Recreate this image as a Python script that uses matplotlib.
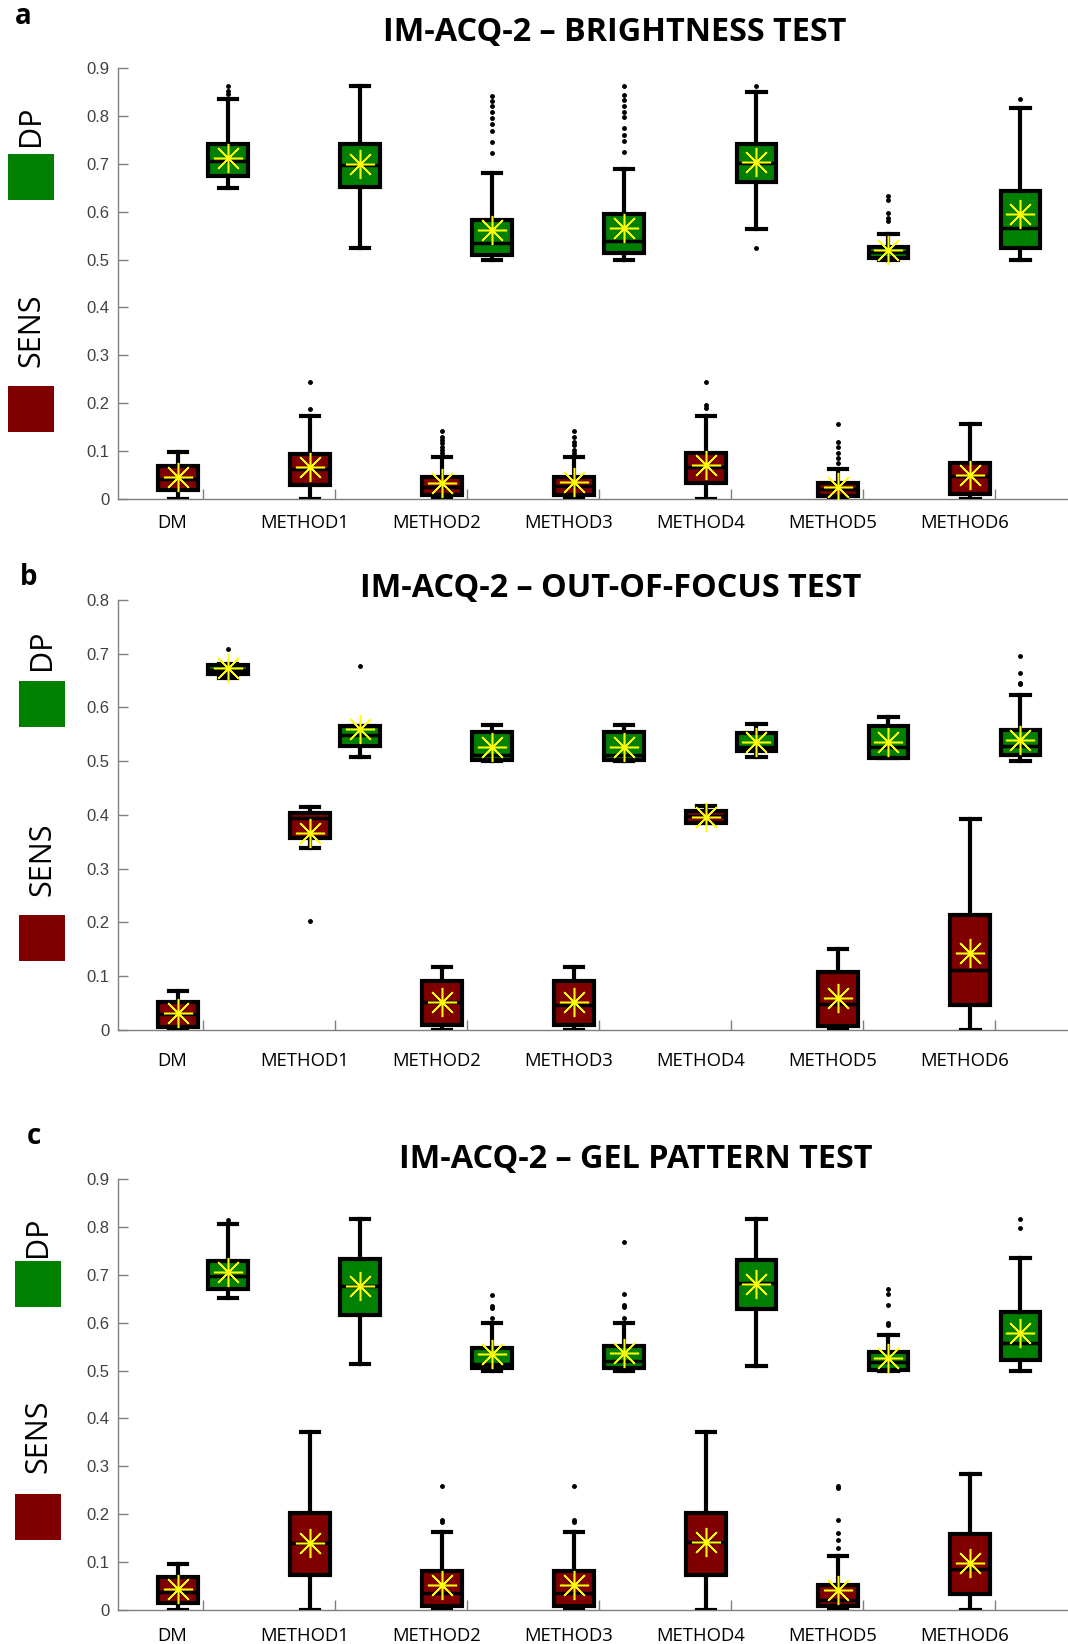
import numpy as np
import matplotlib
matplotlib.use("Agg")
import matplotlib.pyplot as plt
from matplotlib.patches import Rectangle

methods = ["DM", "METHOD1", "METHOD2", "METHOD3", "METHOD4", "METHOD5", "METHOD6"]

# ---- panel a : brightness test ----
a_sens_q1 = [0.019, 0.029, 0.008, 0.008, 0.033, 0.007, 0.010]
a_sens_med = [0.042, 0.062, 0.026, 0.027, 0.066, 0.021, 0.047]
a_sens_q3 = [0.069, 0.094, 0.045, 0.045, 0.097, 0.033, 0.076]
a_sens_lo = [0.0, 0.0, 0.0, 0.0, 0.0, 0.0, 0.0]
a_sens_hi = [0.099, 0.174, 0.088, 0.088, 0.174, 0.063, 0.157]
a_sens_mean = [0.045, 0.066, 0.033, 0.035, 0.070, 0.024, 0.049]
a_sens_out = [[], [0.187, 0.245], [0.095, 0.103, 0.109, 0.116, 0.123, 0.130, 0.141],
              [0.095, 0.103, 0.113, 0.120, 0.130, 0.142], [0.189, 0.196, 0.245],
              [0.075, 0.085, 0.095, 0.109, 0.120, 0.157], []]

a_dp_q1 = [0.675, 0.651, 0.510, 0.513, 0.661, 0.503, 0.525]
a_dp_med = [0.706, 0.697, 0.534, 0.538, 0.701, 0.515, 0.565]
a_dp_q3 = [0.742, 0.742, 0.583, 0.595, 0.742, 0.527, 0.644]
a_dp_lo = [0.649, 0.524, 0.500, 0.500, 0.564, 0.500, 0.500]
a_dp_hi = [0.836, 0.863, 0.680, 0.689, 0.849, 0.553, 0.816]
a_dp_mean = [0.713, 0.700, 0.561, 0.566, 0.704, 0.520, 0.595]
a_dp_out = [[0.845, 0.852, 0.862], [],
            [0.722, 0.745, 0.768, 0.784, 0.796, 0.809, 0.820, 0.831, 0.841],
            [0.724, 0.747, 0.761, 0.775, 0.798, 0.809, 0.820, 0.834, 0.844, 0.863],
            [0.524, 0.863], [0.580, 0.587, 0.597, 0.625, 0.633], [0.836]]

# ---- panel b : out-of-focus test ----
b_sens_q1 = [0.005, 0.357, 0.009, 0.010, 0.385, 0.008, 0.047]
b_sens_med = [0.030, 0.395, 0.052, 0.047, 0.398, 0.048, 0.112]
b_sens_q3 = [0.052, 0.403, 0.091, 0.091, 0.407, 0.107, 0.214]
b_sens_lo = [0.0, 0.339, 0.0, 0.0, 0.385, 0.0, 0.0]
b_sens_hi = [0.072, 0.415, 0.118, 0.118, 0.417, 0.150, 0.393]
b_sens_mean = [0.031, 0.366, 0.052, 0.052, 0.397, 0.060, 0.143]
b_sens_out = [[], [0.202], [], [], [], [], []]

b_dp_q1 = [0.663, 0.528, 0.503, 0.503, 0.519, 0.505, 0.511]
b_dp_med = [0.669, 0.549, 0.512, 0.512, 0.527, 0.527, 0.529]
b_dp_q3 = [0.679, 0.566, 0.555, 0.555, 0.553, 0.566, 0.558]
b_dp_lo = [0.654, 0.508, 0.500, 0.500, 0.508, 0.505, 0.500]
b_dp_hi = [0.680, 0.566, 0.567, 0.567, 0.569, 0.583, 0.624]
b_dp_mean = [0.674, 0.559, 0.527, 0.527, 0.535, 0.536, 0.539]
b_dp_out = [[0.709], [0.677], [], [], [], [], [0.643, 0.646, 0.664, 0.696]]

# ---- panel c : gel pattern test ----
c_sens_q1 = [0.014, 0.074, 0.009, 0.009, 0.074, 0.009, 0.034]
c_sens_med = [0.037, 0.140, 0.036, 0.036, 0.141, 0.021, 0.086]
c_sens_q3 = [0.068, 0.203, 0.081, 0.081, 0.202, 0.053, 0.158]
c_sens_lo = [0.0, 0.0, 0.0, 0.0, 0.0, 0.0, 0.0]
c_sens_hi = [0.096, 0.371, 0.162, 0.162, 0.371, 0.113, 0.284]
c_sens_mean = [0.043, 0.140, 0.053, 0.053, 0.143, 0.041, 0.098]
c_sens_out = [[], [], [0.184, 0.187, 0.259], [0.184, 0.187, 0.259], [],
              [0.130, 0.146, 0.160, 0.187, 0.255, 0.259], []]

c_dp_q1 = [0.670, 0.617, 0.506, 0.506, 0.629, 0.502, 0.522]
c_dp_med = [0.697, 0.677, 0.514, 0.520, 0.683, 0.517, 0.558]
c_dp_q3 = [0.729, 0.734, 0.547, 0.551, 0.731, 0.538, 0.622]
c_dp_lo = [0.651, 0.513, 0.500, 0.500, 0.510, 0.500, 0.500]
c_dp_hi = [0.807, 0.816, 0.600, 0.600, 0.816, 0.574, 0.736]
c_dp_mean = [0.706, 0.676, 0.535, 0.536, 0.680, 0.526, 0.579]
c_dp_out = [[0.814], [], [0.609, 0.630, 0.634, 0.658],
            [0.609, 0.633, 0.636, 0.659, 0.768], [],
            [0.595, 0.600, 0.636, 0.659, 0.671], [0.797, 0.816]]

GREEN = "#008000"
RED = "#800000"
YELLOW = "#ffff00"
W, H = 1068.0, 1644.0


def make_stats(q1, med, q3, lo, hi, mean, out):
    stats = []
    for i in range(len(q1)):
        stats.append(dict(q1=q1[i], med=med[i], q3=q3[i], whislo=lo[i],
                          whishi=hi[i], mean=mean[i], fliers=out[i]))
    return stats


def draw_boxes(ax, stats, pos, color):
    ax.bxp(stats, positions=pos, widths=0.3, capwidths=0.14,
           patch_artist=True, showmeans=True,
           boxprops=dict(facecolor=color, edgecolor="black", linewidth=3),
           whiskerprops=dict(color="black", linewidth=3),
           capprops=dict(color="black", linewidth=3),
           medianprops=dict(color="black", linewidth=2.5),
           flierprops=dict(marker="o", markersize=2.5, markerfacecolor="black",
                           markeredgecolor="black"),
           meanprops=dict(marker=(8, 2, 0), markersize=21, markeredgecolor=YELLOW,
                          markeredgewidth=1.1))
    ax.plot(pos, [s["mean"] for s in stats], "o", ms=3, color=YELLOW, zorder=5)


def draw_panel(ax, sens, dp, ymax, title, title_xy, label_pad):
    groups = np.arange(1, len(methods) + 1)
    draw_boxes(ax, sens, groups - 0.19, RED)
    draw_boxes(ax, dp, groups + 0.19, GREEN)
    ax.set_xlim(0.357, 7.55)
    ax.set_ylim(0, ymax)
    yt = np.round(np.arange(0, ymax + 0.001, 0.1), 1)
    ax.set_yticks(yt)
    ax.set_yticklabels([f"{t:g}" for t in yt], fontfamily="Liberation Sans",
                       fontsize=12, color="#404040")
    ax.tick_params(axis="y", direction="in", length=7, width=1, color="#7f7f7f", pad=6)
    ax.set_xticks(groups - 0.23)
    ax.set_xticklabels(methods, fontfamily="Open Sans", fontsize=13.3)
    ax.tick_params(axis="x", which="major", length=0, pad=label_pad)
    ax.set_xticks(groups, minor=True)
    ax.tick_params(axis="x", which="minor", direction="in", length=7, width=1,
                   color="#7f7f7f")
    for s in ["top", "right"]:
        ax.spines[s].set_visible(False)
    for s in ["left", "bottom"]:
        ax.spines[s].set_color("#7f7f7f")
        ax.spines[s].set_linewidth(1)
        ax.spines[s].set_zorder(0)
    fig.text(title_xy[0] / W, 1 - title_xy[1] / H, title, fontfamily="Open Sans",
             fontweight="bold", fontsize=23.3, ha="center", va="center")


fig = plt.figure(figsize=(10.68, 16.44), dpi=100)

ax_a = fig.add_axes([0.1105, 0.6965, 0.8895, 0.2621])
ax_b = fig.add_axes([0.1105, 0.3735, 0.8895, 0.2616])
ax_c = fig.add_axes([0.1105, 0.0207, 0.8895, 0.2621])

draw_panel(ax_a, make_stats(a_sens_q1, a_sens_med, a_sens_q3, a_sens_lo, a_sens_hi, a_sens_mean, a_sens_out),
           make_stats(a_dp_q1, a_dp_med, a_dp_q3, a_dp_lo, a_dp_hi, a_dp_mean, a_dp_out),
           0.9, "IM-ACQ-2 \u2013 BRIGHTNESS TEST", (615, 32), 11)
draw_panel(ax_b, make_stats(b_sens_q1, b_sens_med, b_sens_q3, b_sens_lo, b_sens_hi, b_sens_mean, b_sens_out),
           make_stats(b_dp_q1, b_dp_med, b_dp_q3, b_dp_lo, b_dp_hi, b_dp_mean, b_dp_out),
           0.8, "IM-ACQ-2 \u2013 OUT-OF-FOCUS TEST", (611, 588), 16)
draw_panel(ax_c, make_stats(c_sens_q1, c_sens_med, c_sens_q3, c_sens_lo, c_sens_hi, c_sens_mean, c_sens_out),
           make_stats(c_dp_q1, c_dp_med, c_dp_q3, c_dp_lo, c_dp_hi, c_dp_mean, c_dp_out),
           0.9, "IM-ACQ-2 \u2013 GEL PATTERN TEST", (636, 1159), 12)

# panel letters and the side legend (pixel positions of the 1068x1644 figure)
side = [("a", 23, 16, 126, 154, 330, 386, 8),
        ("b", 29, 577, 650, 681, 859, 915, 19),
        ("c", 34, 1137, 1237, 1261, 1436, 1494, 15)]
for letter, lx, ly, dp_y, g_top, sens_y, r_top, sq_x in side:
    fig.text(lx / W, 1 - ly / H, letter, fontfamily="Open Sans", fontweight="bold",
             fontsize=20, ha="center", va="center")
    fig.text((sq_x + 23) / W, 1 - dp_y / H, "DP", rotation=90, fontfamily="Open Sans",
             fontsize=22, ha="center", va="center")
    fig.text((sq_x + 23) / W, 1 - sens_y / H, "SENS", rotation=90, fontfamily="Open Sans",
             fontsize=22, ha="center", va="center")
    fig.patches.append(Rectangle((sq_x / W, 1 - (g_top + 46) / H), 46 / W, 46 / H,
                                 transform=fig.transFigure, facecolor=GREEN, edgecolor="none"))
    fig.patches.append(Rectangle((sq_x / W, 1 - (r_top + 46) / H), 46 / W, 46 / H,
                                 transform=fig.transFigure, facecolor=RED, edgecolor="none"))

fig.savefig("out.png", dpi=100)
